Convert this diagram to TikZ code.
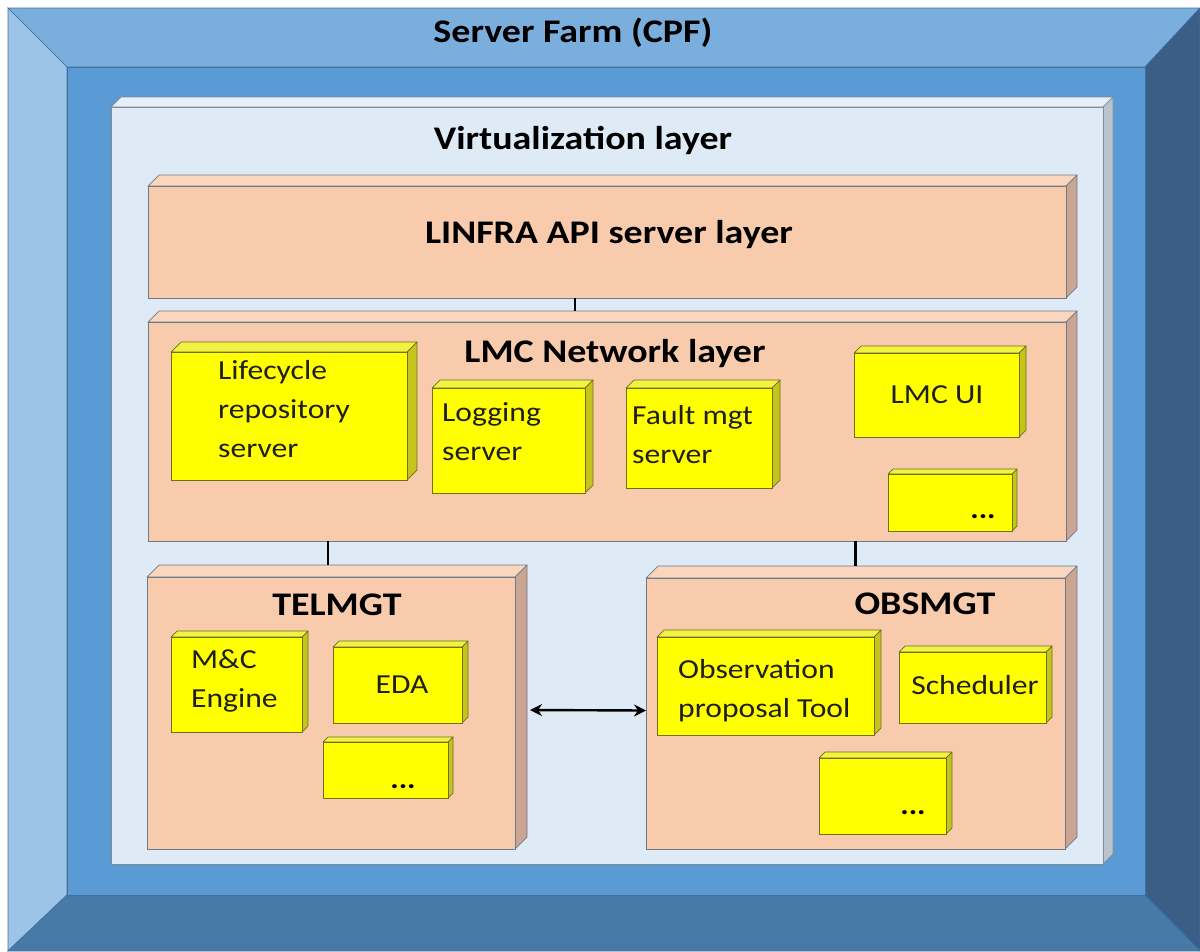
\documentclass[tikz,border=0pt]{standalone}
\usepackage{fontspec}
\setmainfont{Carlito}[FakeStretch=1.15]
\usetikzlibrary{arrows.meta}
\definecolor{bvtop}{HTML}{7AAEDD}
\definecolor{bvleft}{HTML}{9DC3E6}
\definecolor{bvright}{HTML}{3A5E85}
\definecolor{bvbottom}{HTML}{487AA7}
\definecolor{bvfront}{HTML}{5B9BD5}
\definecolor{bvline}{HTML}{41719C}
\definecolor{vfront}{HTML}{DEEBF7}
\definecolor{vtop}{HTML}{E6EFF9}
\definecolor{vside}{HTML}{B9C4CF}
\definecolor{vline}{HTML}{7F8C99}
\definecolor{pfront}{HTML}{F8CBAD}
\definecolor{ptop}{HTML}{FAD6BE}
\definecolor{pside}{HTML}{C9A592}
\definecolor{pline}{HTML}{6F7A88}
\definecolor{yfront}{HTML}{FFFF00}
\definecolor{ytop}{HTML}{F2F240}
\definecolor{yside}{HTML}{C4C41C}
\definecolor{yline}{HTML}{6E6E1E}
\newcommand{\cuboid}[7]{%
  \filldraw[fill=#7top, draw=#7line, line width=0.7pt, line join=round] (#2,#3) -- (#2+#6,#3-#6) -- (#4+#6,#3-#6) -- (#4,#3) -- cycle;
  \filldraw[fill=#7side, draw=#7line, line width=0.7pt, line join=round] (#4,#3) -- (#4+#6,#3-#6) -- (#4+#6,#5-#6) -- (#4,#5) -- cycle;
  \node[draw=#7line, fill=#7front, line width=0.7pt, anchor=north west, inner sep=0pt, outer sep=0pt,
        minimum width={(#4-#2)*1pt}, minimum height={(#5-#3)*1pt}] (#1) at (#2,#3) {};
}
\tikzset{
  lbl/.style={font=\fontsize{33}{40}\selectfont\bfseries, text=black, inner sep=0pt},
  itm/.style={font=\fontsize{27.5}{39}\selectfont, text=black!88, inner sep=0pt, align=left},
  dots/.style={font=\fontsize{27.5}{39}\selectfont\bfseries, text=black, inner sep=0pt},
  conn/.style={line width=2.2pt, black},
  dbl/.style={line width=2.4pt, black, {Stealth[length=12pt,width=12pt]}-{Stealth[length=12pt,width=12pt]}}
}
\begin{document}
\begin{tikzpicture}[x=1pt,y=-1pt]
\useasboundingbox (0,0) rectangle (1200,951);
% outer bevel (server farm)
\filldraw[fill=bvtop, draw=bvline, line width=0.7pt] (8,8) -- (1200,8) -- (1145,67) -- (67,67) -- cycle;
\filldraw[fill=bvleft, draw=bvline, line width=0.7pt] (8,8) -- (67,67) -- (67,895) -- (8,951) -- cycle;
\filldraw[fill=bvright, draw=bvline, line width=0.7pt] (1200,8) -- (1200,951) -- (1145,895) -- (1145,67) -- cycle;
\filldraw[fill=bvbottom, draw=bvline, line width=0.7pt] (8,951) -- (67,895) -- (1145,895) -- (1200,951) -- cycle;
\node[fill=bvfront, draw=bvline, line width=0.7pt, anchor=north west, inner sep=0pt, outer sep=0pt,
      minimum width=1078pt, minimum height=828pt] (farm) at (67,67) {};
\node[lbl, anchor=base] (farmlbl) at (573,42) {Server Farm (CPF)};
% virtualization layer
\cuboid{virt}{111}{107}{1103}{864}{10}{v}
\node[lbl, anchor=base] (virtlbl) at (583,149) {Virtualization layer};
% LINFRA
\cuboid{linfra}{148}{186}{1066}{298}{11}{p}
\node[lbl, anchor=base] (linfralbl) at (609,243) {LINFRA API server layer};
% LMC network layer
\cuboid{lmc}{148}{322}{1066}{541}{11}{p}
\node[lbl, anchor=base] (lmclbl) at (615,362) {LMC Network layer};
\cuboid{life}{171}{352}{407}{480}{10}{y}
\node[itm, anchor=base west] (lifelbl) at (218,457) {Lifecycle\\repository\\server};
\cuboid{logs}{432}{388}{585}{493}{8}{y}
\node[itm, anchor=base west] (logslbl) at (442,460) {Logging\\server};
\cuboid{fault}{626}{388}{772}{488}{8}{y}
\node[itm, anchor=base west] (faultlbl) at (632,463) {Fault mgt\\server};
\cuboid{ui}{854}{353}{1019}{437}{7}{y}
\node[itm, anchor=base] (uilbl) at (937,403) {LMC UI};
\cuboid{lmcmore}{888}{474}{1012}{531}{5}{y}
\node[dots, anchor=base] (lmcmorelbl) at (983,518) {...};
% TELMGT
\cuboid{tel}{147}{577}{515}{849}{12}{p}
\node[lbl, anchor=base] (tellbl) at (337,615) {TELMGT};
\cuboid{mc}{171}{637}{302}{732}{6}{y}
\node[itm, anchor=base west] (mclbl) at (191,707) {M\&C\\Engine};
\cuboid{eda}{333}{647}{462}{723}{6}{y}
\node[itm, anchor=base] (edalbl) at (402,693) {EDA};
\cuboid{telmore}{323}{742}{448}{798}{5}{y}
\node[dots, anchor=base] (telmorelbl) at (403,788) {...};
% OBSMGT
\cuboid{obs}{646}{578}{1065}{849}{12}{p}
\node[lbl, anchor=base] (obslbl) at (925,614) {OBSMGT};
\cuboid{opt}{657}{637}{874}{735}{7}{y}
\node[itm, anchor=base west] (optlbl) at (678,717) {Observation\\proposal Tool};
\cuboid{sched}{899}{652}{1046}{723}{6}{y}
\node[itm, anchor=base] (schedlbl) at (975,694) {Scheduler};
\cuboid{obsmore}{819}{758}{946}{834}{6}{y}
\node[dots, anchor=base] (obsmorelbl) at (913,814) {...};
% connectors
\draw[conn] ([xshift=-32pt]linfra.south) -- ([xshift=-32pt,yshift=11pt]lmc.north);
\draw[conn] ([xshift=-3pt]lmc.south -| tel.north) -- ([xshift=-3pt,yshift=12pt]tel.north);
\draw[conn] (lmc.south -| obs.north) -- ([yshift=12pt]obs.north);
\draw[dbl] ([xshift=15pt,yshift=3pt]tel.east) -- ([yshift=3pt]obs.west);
\end{tikzpicture}
\end{document}
